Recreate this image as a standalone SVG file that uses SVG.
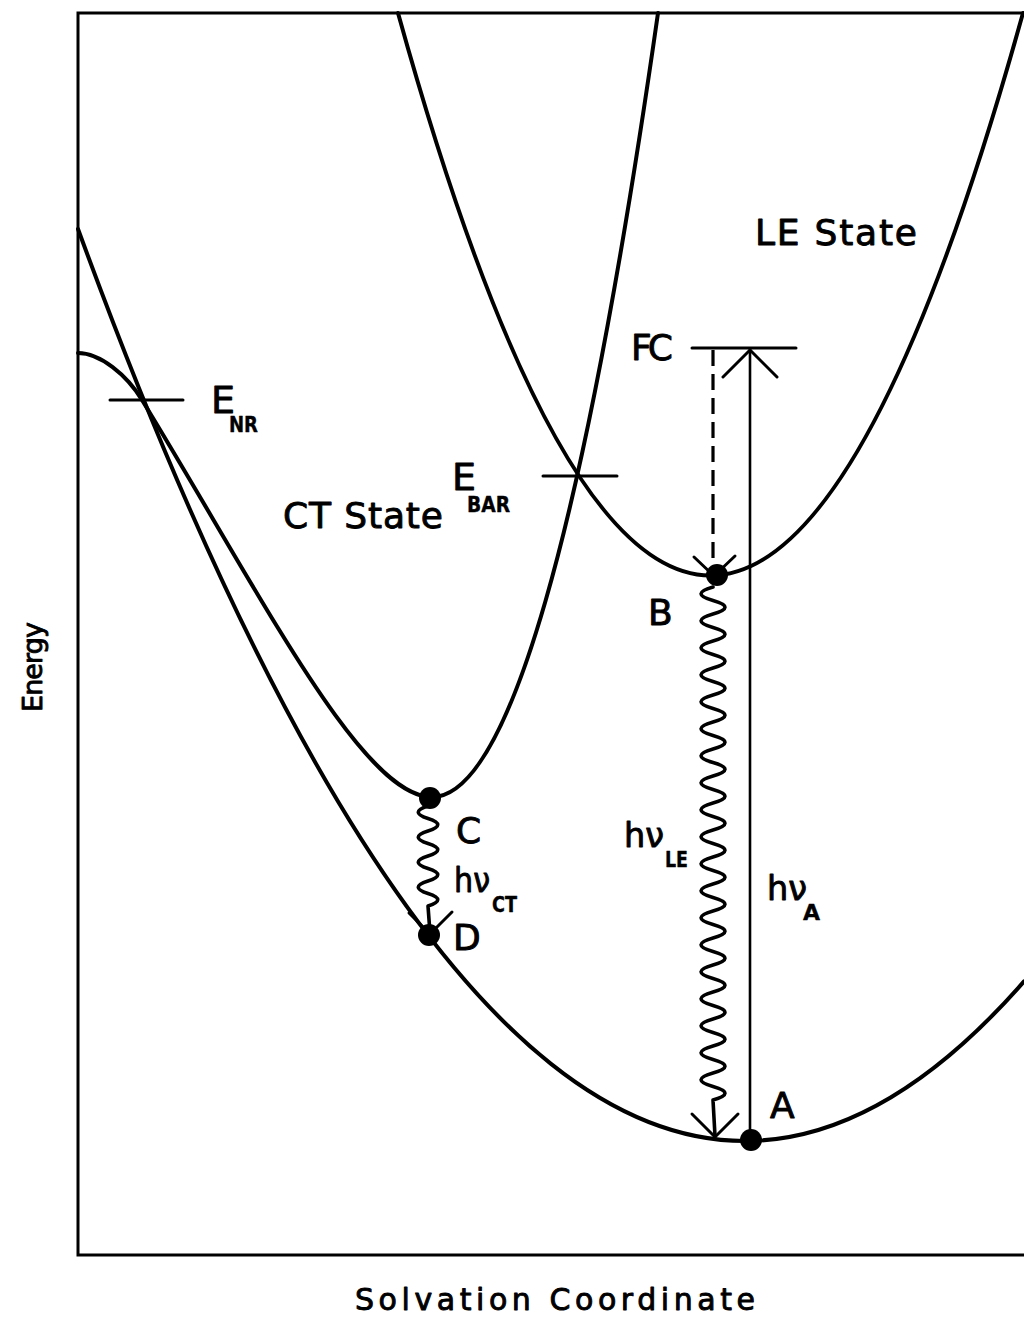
<svg xmlns="http://www.w3.org/2000/svg" width="1024" height="1321" viewBox="0 0 1024 1321">
<style>
.curve{fill:none;stroke:#000;stroke-width:4;stroke-linecap:round;stroke-linejoin:round}
.frame{fill:none;stroke:#000;stroke-width:3}
.ln{fill:none;stroke:#000;stroke-width:3;stroke-linecap:round;stroke-linejoin:round}
.wave{fill:none;stroke:#000;stroke-width:3.6;stroke-linecap:round;stroke-linejoin:round}
.thin{fill:none;stroke:#000;stroke-width:2.6}
.dash{fill:none;stroke:#000;stroke-width:3.2;stroke-dasharray:16 8}
.dot{fill:#000}
text{font-family:"DejaVu Sans","Liberation Sans",sans-serif;fill:#000;stroke:#000;stroke-width:0.9;stroke-linejoin:round}
.lbl{font-size:36px}
.sub{font-size:22px;font-weight:bold;stroke-width:0.4}
.ax{font-size:30px}
</style>
<rect width="1024" height="1321" fill="#fff"/>
<g id="frame">
<path class="frame" d="M1024,13 H78 V1255 H1024"/>
</g>
<g id="ground-state">
<path class="curve" d="M78,229 Q551,1522.5 1024,981.4"/>
</g>
<g id="le-state">
<path class="curve" d="M398,13 Q710.5,1138 1023,13"/>
<text class="lbl" x="755" y="245" textLength="162" lengthAdjust="spacing">LE State</text>
</g>
<g id="ct-state">
<path class="curve" d="M78,353 C100,353 127,375 142,400 C262,596 362,797 432,797 Q546,797 658,13"/>
<text class="lbl" x="283" y="528" textLength="160" lengthAdjust="spacing">CT State</text>
</g>
<g id="e-nr">
<line class="ln" x1="110" y1="400" x2="183" y2="400"/>
<text class="lbl" x="211" y="413" style="font-size:38px">E</text>
<text class="sub" x="229" y="432" textLength="29" lengthAdjust="spacingAndGlyphs">NR</text>
</g>
<g id="e-bar">
<line class="ln" x1="543" y1="476" x2="617" y2="476"/>
<text class="lbl" x="452" y="490" style="font-size:38px">E</text>
<text class="sub" x="467" y="512" textLength="43" lengthAdjust="spacingAndGlyphs">BAR</text>
</g>
<g id="fc">
<line class="ln" x1="692" y1="348" x2="796" y2="348"/>
<text class="lbl" x="631" y="360" textLength="42" lengthAdjust="spacing">FC</text>
</g>
<g id="connectors">
<line class="thin" x1="750" y1="1140" x2="750" y2="349"/>
<path class="ln" d="M723,377 L750,350 L777,377"/>
<line class="dash" x1="713" y1="350" x2="713" y2="572"/>
<path class="ln" d="M694,557 L714,576 L735,556"/>
<path class="wave" d="M713,587 c-16,4.5 -16,9 0,13.5 c16,4.5 16,9 0,13.5 c-16,4.5 -16,9 0,13.5 c16,4.5 16,9 0,13.5 c-16,4.5 -16,9 0,13.5 c16,4.5 16,9 0,13.5 c-16,4.5 -16,9 0,13.5 c16,4.5 16,9 0,13.5 c-16,4.5 -16,9 0,13.5 c16,4.5 16,9 0,13.5 c-16,4.5 -16,9 0,13.5 c16,4.5 16,9 0,13.5 c-16,4.5 -16,9 0,13.5 c16,4.5 16,9 0,13.5 c-16,4.5 -16,9 0,13.5 c16,4.5 16,9 0,13.5 c-16,4.5 -16,9 0,13.5 c16,4.5 16,9 0,13.5 c-16,4.5 -16,9 0,13.5 c16,4.5 16,9 0,13.5 c-16,4.5 -16,9 0,13.5 c16,4.5 16,9 0,13.5 c-16,4.5 -16,9 0,13.5 c16,4.5 16,9 0,13.5 c-16,4.5 -16,9 0,13.5 c16,4.5 16,9 0,13.5 c-16,4.5 -16,9 0,13.5 c16,4.5 16,9 0,13.5 c-16,4.5 -16,9 0,13.5 c16,4.5 16,9 0,13.5 c-16,4.5 -16,9 0,13.5 c16,4.5 16,9 0,13.5 c-16,4.5 -16,9 0,13.5 c16,4.5 16,9 0,13.5 c-16,4.5 -16,9 0,13.5 c16,4.5 16,9 0,13.5 c-16,4.5 -16,9 0,13.5 c16,4.5 16,9 0,13.5 L715,1136"/>
<path class="ln" d="M692,1114 L715,1137 L738,1114"/>
<path class="wave" d="M428,806 c-13,4.2 -13,8.3 0,12.5 c13,4.2 13,8.3 0,12.5 c-13,4.2 -13,8.3 0,12.5 c13,4.2 13,8.3 0,12.5 c-13,4.2 -13,8.3 0,12.5 c13,4.2 13,8.3 0,12.5 c-13,4.2 -13,8.3 0,12.5 c13,4.2 13,8.3 0,12.5 L430,933"/>
<path class="ln" d="M409,913 L430,934 L452,912"/>
</g>
<g id="point-A">
<circle class="dot" cx="751" cy="1140" r="11"/>
<text class="lbl" x="770" y="1118">A</text>
</g>
<g id="point-B">
<circle class="dot" cx="717" cy="575" r="11"/>
<text class="lbl" x="648" y="625">B</text>
</g>
<g id="point-C">
<circle class="dot" cx="430" cy="798" r="11"/>
<text class="lbl" x="456" y="843">C</text>
</g>
<g id="point-D">
<circle class="dot" cx="429" cy="935" r="11"/>
<text class="lbl" x="453" y="950">D</text>
</g>
<g id="label-hv-ct">
<text class="lbl" x="454" y="892" style="font-size:34px" textLength="36" lengthAdjust="spacingAndGlyphs">hν</text>
<text class="sub" x="492" y="912" textLength="25" lengthAdjust="spacingAndGlyphs">CT</text>
</g>
<g id="label-hv-le">
<text class="lbl" x="624" y="847" style="font-size:34px" textLength="40" lengthAdjust="spacingAndGlyphs">hν</text>
<text class="sub" x="665" y="867" textLength="23" lengthAdjust="spacingAndGlyphs">LE</text>
</g>
<g id="label-hv-a">
<text class="lbl" x="767" y="900" style="font-size:34px" textLength="40" lengthAdjust="spacingAndGlyphs">hν</text>
<text class="sub" x="803" y="920">A</text>
</g>
<g id="axis-labels">
<text class="ax" transform="translate(42,712) rotate(-90)" textLength="90" lengthAdjust="spacing" style="font-size:27px">Energy</text>
<text class="ax" x="355" y="1310" textLength="400" lengthAdjust="spacing">Solvation Coordinate</text>
</g>
</svg>
